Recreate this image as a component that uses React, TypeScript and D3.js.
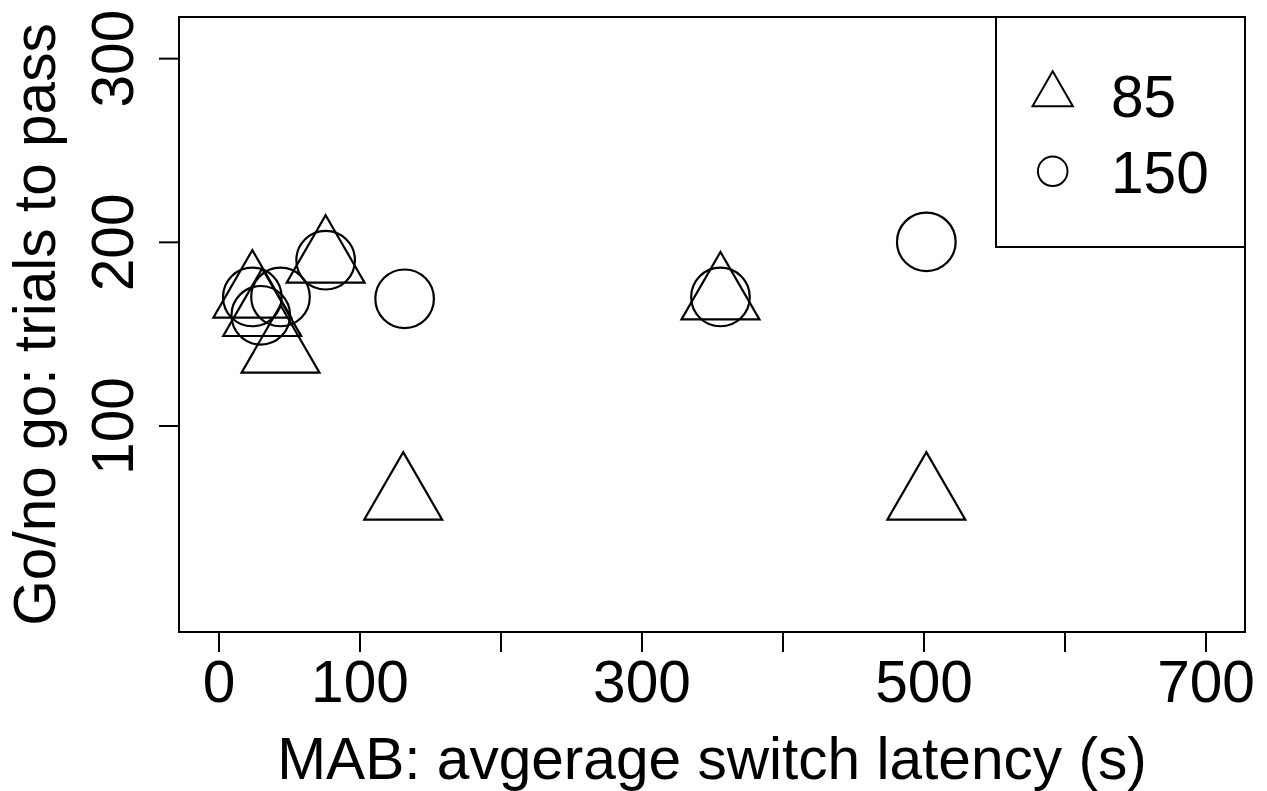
import React, { useEffect, useRef } from 'react';
import * as d3 from 'd3';

// MAB switch latency (s) vs go/no go trials to pass
const latency85 = [24, 31, 44, 76, 131, 356, 502];
const trials85 = [171, 161, 141, 190, 61, 170, 61];
const latency150 = [24, 30, 44, 76, 132, 356, 502];
const trials150 = [170, 160, 170, 190, 169, 170, 200];

const xTicks = [0, 100, 200, 300, 400, 500, 600, 700];
const xTickLabels = ['0', '100', '', '300', '', '500', '', '700'];
const yTicks = [100, 200, 300];
const legendLabels = ['85', '150'];

const W = 1267;
const H = 791;
const FONT = '"Liberation Sans", Arial, Helvetica, sans-serif';
const FS = '58.6px';

const triPath = (cx, cy, r) => {
  const hw = (r * Math.sqrt(3)) / 2;
  return `M${cx},${cy - r}L${cx + hw},${cy + r / 2}L${cx - hw},${cy + r / 2}Z`;
};

const App = () => {
  const ref = useRef(null);

  useEffect(() => {
    const svg = d3.select(ref.current);
    svg.selectAll('*').remove();

    const margin = { top: 17, right: 22, bottom: 159, left: 179 };
    const x = d3.scaleLinear().domain([-28, 728]).range([margin.left, W - margin.right]);
    const y = d3.scaleLinear().domain([-12.4, 322.4]).range([H - margin.bottom, margin.top]);
    const [x0, x1] = x.range();
    const [y0, y1] = y.range();

    svg.append('rect').attr('width', W).attr('height', H).attr('fill', 'white');

    // points
    const triR = 45;
    const circR = 29.3;
    const g = svg.append('g').attr('fill', 'none').attr('stroke', 'black').attr('stroke-width', 2.2);
    g.selectAll('path.tri')
      .data(latency85.map((d, i) => [d, trials85[i]]))
      .enter()
      .append('path')
      .attr('class', 'tri')
      .attr('d', (d) => triPath(x(d[0]), y(d[1]), triR));
    g.selectAll('circle.pt')
      .data(latency150.map((d, i) => [d, trials150[i]]))
      .enter()
      .append('circle')
      .attr('class', 'pt')
      .attr('cx', (d) => x(d[0]))
      .attr('cy', (d) => y(d[1]))
      .attr('r', circR);

    // box
    svg
      .append('rect')
      .attr('x', x0)
      .attr('y', y1)
      .attr('width', x1 - x0)
      .attr('height', y0 - y1)
      .attr('fill', 'none')
      .attr('stroke', 'black')
      .attr('stroke-width', 2);

    // x axis
    const xa = svg
      .append('g')
      .attr('transform', `translate(0,${y0})`)
      .call(d3.axisBottom(x).tickValues(xTicks).tickSize(20).tickSizeOuter(0).tickFormat((d, i) => xTickLabels[i]));
    xa.select('.domain').remove();
    xa.selectAll('line').attr('stroke', 'black').attr('stroke-width', 2);
    xa.selectAll('text')
      .attr('y', 70)
      .attr('dy', null)
      .attr('fill', 'black')
      .style('font-family', FONT)
      .style('font-size', FS);

    // y axis
    const ya = svg
      .append('g')
      .attr('transform', `translate(${x0},0)`)
      .call(d3.axisLeft(y).tickValues(yTicks).tickSize(20).tickSizeOuter(0));
    ya.select('.domain').remove();
    ya.selectAll('line').attr('stroke', 'black').attr('stroke-width', 2);
    ya.selectAll('text')
      .attr('x', null)
      .attr('dy', null)
      .attr('text-anchor', 'middle')
      .attr('transform', 'translate(-46,0) rotate(-90)')
      .attr('fill', 'black')
      .style('font-family', FONT)
      .style('font-size', FS);

    // axis titles
    svg
      .append('text')
      .attr('x', (x0 + x1) / 2)
      .attr('y', 779)
      .attr('text-anchor', 'middle')
      .style('font-family', FONT)
      .style('font-size', FS)
      .text('MAB: avgerage switch latency (s)');
    svg
      .append('text')
      .attr('transform', `translate(54.5,${(y0 + y1) / 2}) rotate(-90)`)
      .attr('text-anchor', 'middle')
      .style('font-family', FONT)
      .style('font-size', FS)
      .text('Go/no go: trials to pass');

    // legend
    const lg = svg.append('g');
    lg.append('rect')
      .attr('x', 996)
      .attr('y', y1)
      .attr('width', x1 - 996)
      .attr('height', 230)
      .attr('fill', 'white')
      .attr('stroke', 'black')
      .attr('stroke-width', 2);
    const rows = [94.6, 171.3];
    lg.append('path')
      .attr('d', triPath(1052.7, rows[0], 23.3))
      .attr('fill', 'none')
      .attr('stroke', 'black')
      .attr('stroke-width', 2);
    lg.append('circle')
      .attr('cx', 1052.7)
      .attr('cy', rows[1])
      .attr('r', 14.8)
      .attr('fill', 'none')
      .attr('stroke', 'black')
      .attr('stroke-width', 2);
    lg.selectAll('text')
      .data(legendLabels)
      .enter()
      .append('text')
      .attr('x', 1111)
      .attr('y', (d, i) => rows[i] + 22)
      .style('font-family', FONT)
      .style('font-size', FS)
      .text((d) => d);
  }, []);

  return (
    <svg
      ref={ref}
      width={W}
      height={H}
      style={{ position: 'absolute', left: 0, top: 0, display: 'block' }}
    ></svg>
  );
};

export default App;
